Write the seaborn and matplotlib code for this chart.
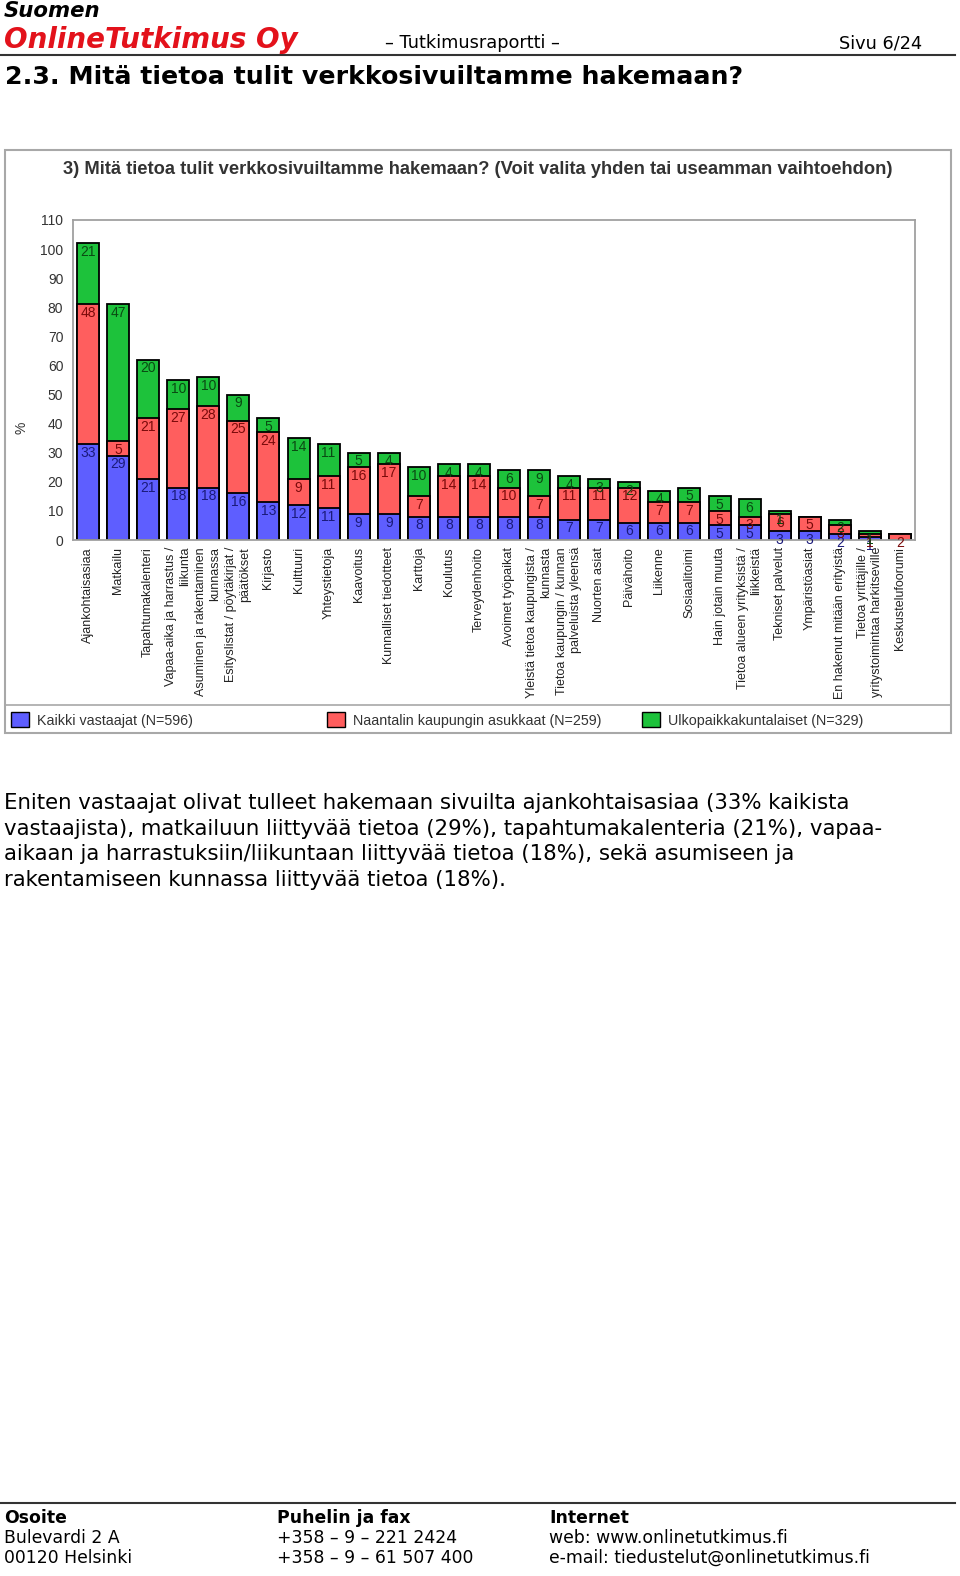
import numpy as np
import pandas as pd
import seaborn as sns
import matplotlib.pyplot as plt
from matplotlib.patches import Rectangle, Patch
from matplotlib.lines import Line2D

# chart data (% of respondents)
categories = [
    "Ajankohtaisasiaa", "Matkailu", "Tapahtumakalenteri",
    "Vapaa-aika ja harrastus /\nliikunta", "Asuminen ja rakentaminen\nkunnassa",
    "Esityslistat / pöytäkirjat /\npäätökset", "Kirjasto", "Kulttuuri",
    "Yhteystietoja", "Kaavoitus", "Kunnalliset tiedotteet", "Karttoja",
    "Koulutus", "Terveydenhoito", "Avoimet työpaikat",
    "Yleistä tietoa kaupungista /\nkunnasta",
    "Tietoa kaupungin / kunnan\npalveluista yleensä", "Nuorten asiat",
    "Päivähoito", "Liikenne", "Sosiaalitoimi", "Hain jotain muuta",
    "Tietoa alueen yrityksistä /\nliikkeistä", "Tekniset palvelut",
    "Ympäristöasiat", "En hakenut mitään erityistä",
    "Tietoa yrittäjille /\nyritystoimintaa harkitseville", "Keskustelufoorumi",
]
kaikki = [33, 29, 21, 18, 18, 16, 13, 12, 11, 9, 9, 8, 8, 8, 8, 8, 7, 7, 6, 6, 6, 5, 5, 3, 3, 2, 1, 0]
naantali = [48, 5, 21, 27, 28, 25, 24, 9, 11, 16, 17, 7, 14, 14, 10, 7, 11, 11, 12, 7, 7, 5, 3, 6, 5, 3, 1, 2]
ulko = [21, 47, 20, 10, 10, 9, 5, 14, 11, 5, 4, 10, 4, 4, 6, 9, 4, 3, 2, 4, 5, 5, 6, 1, 0, 2, 1, 0]
series_names = ["Kaikki vastaajat (N=596)", "Naantalin kaupungin asukkaat (N=259)",
                "Ulkopaikkakuntalaiset (N=329)"]

colors = ["#5E5EFF", "#FF5E5E", "#1DC23B"]
label_colors = ["#1a1a7a", "#7a0a0a", "#0a4a12"]

W, H = 960, 1576
fig = plt.figure(figsize=(W / 100, H / 100), dpi=100)
doc_font = "DejaVu Sans"
chart_font = "Liberation Sans"


def fx(x):
    return x / W


def fy(y):
    return 1 - y / H


def ptext(x, y, s, **kw):
    kw.setdefault("family", doc_font)
    kw.setdefault("va", "center")
    fig.text(fx(x), fy(y), s, **kw)


# page header
ptext(4, 11, "Suomen", fontsize=15.3, weight="bold", style="italic")
ptext(4, 40, "OnlineTutkimus Oy", fontsize=20, weight="bold", style="italic", color="#e3121b")
ptext(385, 43, "– Tutkimusraportti –", fontsize=12.8)
ptext(922, 43, "Sivu 6/24", fontsize=12.8, ha="right")
fig.add_artist(Line2D([0, fx(955)], [fy(55), fy(55)], color="#333333", lw=1.5))
ptext(5, 77, "2.3. Mitä tietoa tulit verkkosivuiltamme hakemaan?", fontsize=18.2, weight="bold")

# chart frame
fig.add_artist(Rectangle((fx(5), fy(733)), fx(946), 583 / H, fill=False,
                         edgecolor="#a8a8a8", lw=1.5))
fig.add_artist(Line2D([fx(5), fx(951)], [fy(705), fy(705)], color="#a8a8a8", lw=1.2))
ptext(478, 169, "3) Mitä tietoa tulit verkkosivuiltamme hakemaan? (Voit valita yhden tai useamman vaihtoehdon)",
      family=chart_font, fontsize=13.2, weight="bold", color="#333333", ha="center")

# plot area
ax = fig.add_axes([fx(73), fy(540), fx(915 - 73), (540 - 220) / H])
df = pd.DataFrame({"cat": categories, "k": kaikki, "n": naantali, "u": ulko})
df["kn"] = df["k"] + df["n"]
df["knu"] = df["kn"] + df["u"]

for col, c in zip(["knu", "kn", "k"], colors[::-1]):
    sns.barplot(data=df, x="cat", y=col, color=c, saturation=1, width=0.73,
                edgecolor="black", linewidth=1.3, errorbar=None, ax=ax)

bottoms = np.zeros(len(categories))
for vals, lc in zip([kaikki, naantali, ulko], label_colors):
    vals = np.array(vals)
    tops = bottoms + vals
    for i, (v, t) in enumerate(zip(vals, tops)):
        if v > 0:
            ax.text(i, t - 0.6, str(v), ha="center", va="top", fontsize=10,
                    color=lc, family=chart_font)
    bottoms = tops

ax.set_ylim(0, 110)
ax.set_xlim(-0.5, len(categories) - 0.5)
ax.set_yticks(range(0, 111, 10))
ax.set_xlabel("")
ax.set_ylabel("")
ax.tick_params(axis="both", length=0, colors="#333333")
ax.tick_params(axis="y", pad=7)
ax.tick_params(axis="x", pad=5)
for lab in ax.get_yticklabels():
    lab.set_family(chart_font)
    lab.set_fontsize(10)
ax.set_xticks(range(len(categories)))
ax.set_xticklabels(categories, rotation=90, ha="center", va="top", multialignment="right",
                   fontsize=9, family=chart_font, color="#222222")
for s in ax.spines.values():
    s.set_color("#a0a0a0")
    s.set_linewidth(1.3)
ptext(22, 428, "%", family=chart_font, fontsize=10, rotation=90, ha="center", color="#333333")

# legend
for x0, name, c in zip([11, 327, 642], series_names, colors):
    fig.legend(handles=[Patch(facecolor=c, edgecolor="black", lw=1)], labels=[name],
               loc="center left", bbox_to_anchor=(fx(x0), fy(720)), frameon=False,
               handlelength=1.25, handleheight=1.25, handletextpad=0.6, borderpad=0,
               borderaxespad=0, prop={"family": chart_font, "size": 10.3}, labelcolor="#333333")

# paragraph
para = [
    "Eniten vastaajat olivat tulleet hakemaan sivuilta ajankohtaisasiaa (33% kaikista",
    "vastaajista), matkailuun liittyvää tietoa (29%), tapahtumakalenteria (21%), vapaa-",
    "aikaan ja harrastuksiin/liikuntaan liittyvää tietoa (18%), sekä asumiseen ja",
    "rakentamiseen kunnassa liittyvää tietoa (18%).",
]
for i, line in enumerate(para):
    ptext(4, 803 + i * 25.7, line, fontsize=15.35)

# footer
fig.add_artist(Line2D([0, fx(955)], [fy(1503), fy(1503)], color="#333333", lw=1.5))
cols = [
    (4, ["Osoite", "Bulevardi 2 A", "00120 Helsinki"]),
    (277, ["Puhelin ja fax", "+358 – 9 – 221 2424", "+358 – 9 – 61 507 400"]),
    (549, ["Internet", "web: www.onlinetutkimus.fi", "e-mail: tiedustelut@onlinetutkimus.fi"]),
]
for x0, lines in cols:
    for j, line in enumerate(lines):
        ptext(x0, 1518 + j * 20, line, fontsize=12.4, weight="bold" if j == 0 else "normal")

fig.savefig("out.png", dpi=100)
